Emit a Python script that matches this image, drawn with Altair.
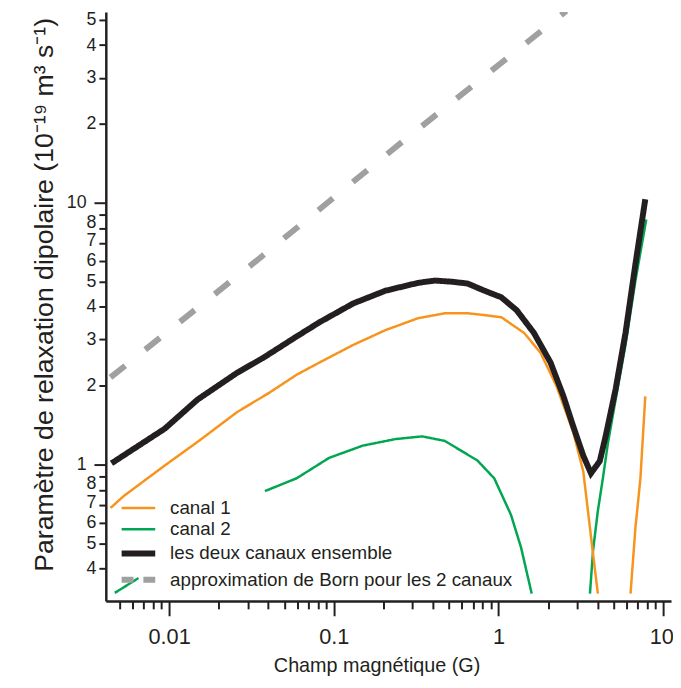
import altair as alt
import pandas as pd

# ---- data (x: Champ magnétique in G, y: parameter in 1e-19 m^3/s) ----
S1 = "canal 1"
S2 = "canal 2"
S3 = "les deux canaux ensemble"
S4 = "approximation de Born pour les 2 canaux"

x_both = [0.00447, 0.00942, 0.0149, 0.0259, 0.0375, 0.0589, 0.0817, 0.131, 0.206, 0.325,
          0.411, 0.520, 0.649, 0.821, 1.04, 1.29, 1.64, 2.07, 2.48, 2.84,
          3.27, 3.64, 4.12, 4.48, 5.14, 5.90, 6.78, 7.78]
y_both = [1.01, 1.37, 1.77, 2.24, 2.56, 3.07, 3.49, 4.12, 4.61, 4.94,
          5.04, 4.99, 4.91, 4.61, 4.35, 3.88, 3.18, 2.45, 1.82, 1.40,
          1.08, 0.925, 1.03, 1.29, 1.94, 3.18, 5.83, 10.3]

x_c1a = [0.00441, 0.00530, 0.00942, 0.0149, 0.0259, 0.0409, 0.0594, 0.0817, 0.131, 0.206,
         0.325, 0.472, 0.649, 0.821, 1.04, 1.43, 1.80, 2.25, 2.84, 3.27, 3.49, 3.75, 4.01]
y_c1a = [0.682, 0.757, 0.991, 1.22, 1.585, 1.885, 2.20, 2.45, 2.86, 3.26,
         3.62, 3.78, 3.78, 3.72, 3.65, 3.18, 2.67, 1.99, 1.33, 0.941, 0.665, 0.454, 0.321]
x_c1b = [6.33, 6.78, 7.27, 7.78]
y_c1b = [0.321, 0.573, 0.885, 1.82]

# canal 2, low-field part: visible before and after the legend block
x_c2a1 = [0.00468, 0.00652]
y_c2a1 = [0.323, 0.368]
x_c2a2 = [0.0382, 0.0594, 0.0938, 0.150, 0.237, 0.344, 0.472, 0.745,
          0.942, 1.19, 1.37, 1.59]
y_c2a2 = [0.791, 0.885, 1.06, 1.18, 1.25, 1.28, 1.23, 1.035,
          0.885, 0.642, 0.482, 0.321]
x_c2b = [3.59, 3.75, 4.01, 4.30, 4.61, 5.14, 5.90, 6.78, 7.89]
y_c2b = [0.321, 0.47, 0.665, 0.885, 1.20, 1.77, 2.86, 5.04, 8.63]

x_born = [0.00441, 0.0356, 0.226, 2.58]
y_born = [2.15, 6.15, 15.9, 54.0]

x_ticks = [0.005, 0.006, 0.007, 0.008, 0.009,
           0.01, 0.02, 0.03, 0.04, 0.05, 0.06, 0.07, 0.08, 0.09,
           0.1, 0.2, 0.3, 0.4, 0.5, 0.6, 0.7, 0.8, 0.9,
           1, 2, 3, 4, 5, 6, 7, 8, 9, 10]
x_major = [0.01, 0.1, 1, 10]
y_ticks = [0.4, 0.5, 0.6, 0.7, 0.8, 0.9, 1, 2, 3, 4, 5, 6, 7, 8, 9, 10, 20, 30, 40, 50]

series = [S1, S2, S3, S4]
colors = ["#f7941d", "#00a651", "#231f20", "#a0a0a0"]

rows = []
def add(name, seg, xs, ys):
    for a, b in zip(xs, ys):
        rows.append({"serie": name, "seg": seg, "x": a, "y": b})

add(S3, "both", x_both, y_both)
add(S1, "c1a", x_c1a, y_c1a)
add(S1, "c1b", x_c1b, y_c1b)
add(S2, "c2a1", x_c2a1, y_c2a1)
add(S2, "c2a2", x_c2a2, y_c2a2)
add(S2, "c2b", x_c2b, y_c2b)
add(S4, "born", x_born, y_born)
df = pd.DataFrame(rows)

FONT = "Liberation Sans"
INK = "#231f20"

xmaj = "indexof(" + str(x_major) + ", datum.value) >= 0"
ymaj = "datum.value == 1 || datum.value == 10"
thick = "(datum.value === '" + S3 + "' || datum.value === '" + S4 + "')"

legend = alt.Legend(
    title=None, orient="none", legendX=11.5, legendY=488.5,
    padding=4, rowPadding=1.5,
    labelFont=FONT, labelFontSize=19, labelColor=INK, labelLimit=0,
    symbolType="M-3.4,0H3.4", symbolSize=100, symbolOffset=8, labelOffset=22.5,
    symbolStrokeWidth=alt.ExprRef(thick + " ? 6 : 2.5"),
    symbolDash=alt.ExprRef("datum.value === '" + S4 + "' ? [12, 10] : [1, 0]"),
)

base = alt.Chart(df).encode(
    x=alt.X("x:Q", scale=alt.Scale(type="log", domain=[0.00413, 11.15], nice=False),
            axis=alt.Axis(values=x_ticks, format="~g",
                          labelExpr=xmaj + " ? datum.label : ''",
                          tickSize={"condition": {"test": xmaj, "value": 15}, "value": 8},
                          labelOffset={"condition": {"test": "datum.value == 10", "value": -2}, "value": 0},
                          labelPadding=11,
                          title="Champ magnétique (G)", titleX=274, titleY=71,
                          titleBaseline="alphabetic", titleFontSize=20)),
    y=alt.Y("y:Q", scale=alt.Scale(type="log", domain=[0.301, 53.5], nice=False),
            axis=alt.Axis(values=y_ticks, format="~g", labelOverlap=False,
                          labelExpr=ymaj + " ? datum.label : "
                                    "(datum.value == 0.9 || datum.value == 9 ? '' : "
                                    "(datum.value < 1 ? format(datum.value * 10, 'd') : "
                                    "(datum.value > 10 ? format(datum.value / 10, 'd') : format(datum.value, 'd'))))",
                          tickSize={"condition": {"test": ymaj, "value": 12}, "value": 7},
                          labelPadding={"condition": {"test": ymaj, "value": 8}, "value": 3},
                          labelOffset={"condition": [
                              {"test": "datum.value == 8 || datum.value == 0.8", "value": -6},
                              {"test": "datum.value == 7 || datum.value == 0.7", "value": -2.5}],
                              "value": 0},
                          labelFontSize=18,
                          title="Paramètre de relaxation dipolaire  (10⁻¹⁹ m³ s⁻¹)",
                          titleAngle=-90, titleAlign="left", titleBaseline="alphabetic",
                          titleX=-54, titleY=566, titleFontSize=27)),
    color=alt.Color("serie:N", scale=alt.Scale(domain=series, range=colors), legend=legend),
    detail="seg:N",
)

def layer(name, width, dash):
    return base.mark_line(clip=True, strokeCap="butt", strokeWidth=width, strokeDash=dash).transform_filter(
        alt.datum.serie == name)

chart = alt.layer(
    layer(S4, 6, [19, 26]),
    layer(S2, 2.5, [1, 0]),
    layer(S1, 2.5, [1, 0]),
    layer(S3, 6, [1, 0]),
).properties(
    width=572, height=596,
    autosize=alt.AutoSizeParams(type="none"),
    padding={"left": 99, "top": 0, "right": 2, "bottom": 80},
).configure_view(stroke=None).configure_axis(
    labelFont=FONT, titleFont=FONT, labelColor=INK, titleColor=INK,
    domainColor=INK, tickColor=INK, domainWidth=2.5, tickWidth=2,
    labelFontSize=19, titleFontWeight="normal", grid=False,
).configure_axisX(labelFontSize=22)

chart.save("out.html", embed_options={"renderer": "svg", "actions": False})
